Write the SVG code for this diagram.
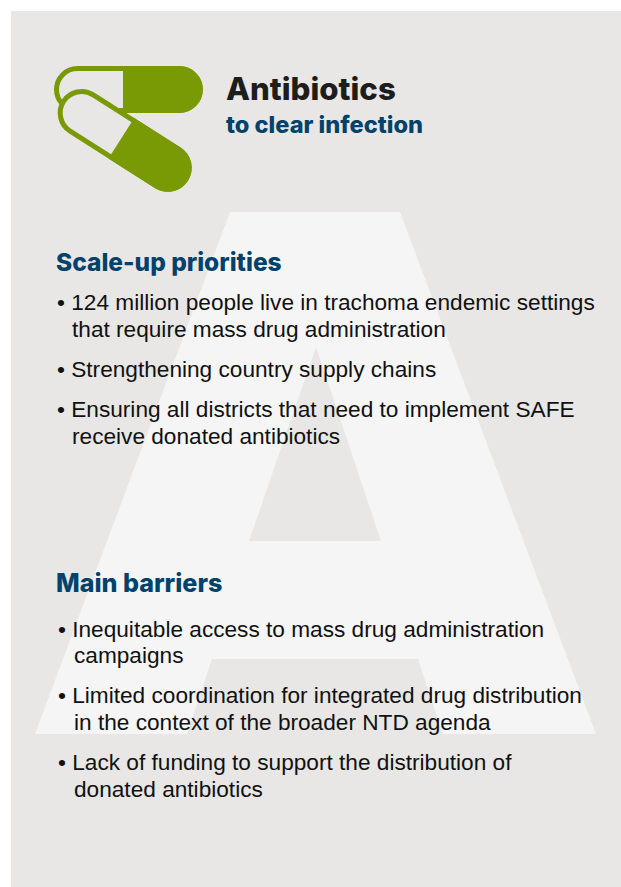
<svg xmlns="http://www.w3.org/2000/svg" width="621" height="887" viewBox="0 0 621 887">
<style>
.b{font-family:"Liberation Sans",Arial,sans-serif;font-size:22.65px;fill:#111}
.h{font-family:Inter,"Liberation Sans",sans-serif;font-weight:800;fill:#00426b}
</style>
<rect width="621" height="887" fill="#fff"/>
<rect x="11" y="11" width="610" height="876" fill="#e8e7e5"/>
<path fill="#f5f5f5" fill-rule="evenodd" d="M230 212H400L596 734H443L418 659H212L187 734H35ZM316 347L249 541H381Z"/>
<g id="icon">
<rect x="56.500" y="68.500" width="144" height="42" rx="21" fill="#e8e7e5" stroke="#7a9a05" stroke-width="5"/>
<path fill="#7a9a05" d="M123 66H179A23.500 23.500 0 0 1 179 113H123Z"/>
<g transform="translate(124.700 140.400) rotate(32.500)">
<rect x="-72.500" y="-21.500" width="145" height="43" rx="21.500" fill="#e8e7e5" stroke="#7a9a05" stroke-width="5"/>
<path fill="#7a9a05" d="M-4 -24H51A24 24 0 0 1 51 24H-4Z"/>
</g>
</g>
<g id="title">
<text x="226" y="100" font-family="Inter,'Liberation Sans',sans-serif" font-weight="800" font-size="31.200" fill="#1d1d1b">Antibiotics</text>
<text class="h" x="226" y="133" font-size="23.600">to clear infection</text>
</g>
<g id="scale-up">
<text class="h" x="56" y="271" font-size="24.500">Scale-up priorities</text>
<text class="b" x="57" y="310">• 124 million people live in trachoma endemic settings</text>
<text class="b" x="72" y="337">that require mass drug administration</text>
<text class="b" x="57" y="377">• Strengthening country supply chains</text>
<text class="b" x="57" y="417">• Ensuring all districts that need to implement SAFE</text>
<text class="b" x="72" y="444">receive donated antibiotics</text>
</g>
<g id="barriers">
<text class="h" x="56" y="592" font-size="25.100">Main barriers</text>
<text class="b" x="58" y="637">• Inequitable access to mass drug administration</text>
<text class="b" x="74" y="663">campaigns</text>
<text class="b" x="58" y="703">• Limited coordination for integrated drug distribution</text>
<text class="b" x="74" y="730">in the context of the broader NTD agenda</text>
<text class="b" x="58" y="770">• Lack of funding to support the distribution of</text>
<text class="b" x="74" y="797">donated antibiotics</text>
</g>
</svg>
